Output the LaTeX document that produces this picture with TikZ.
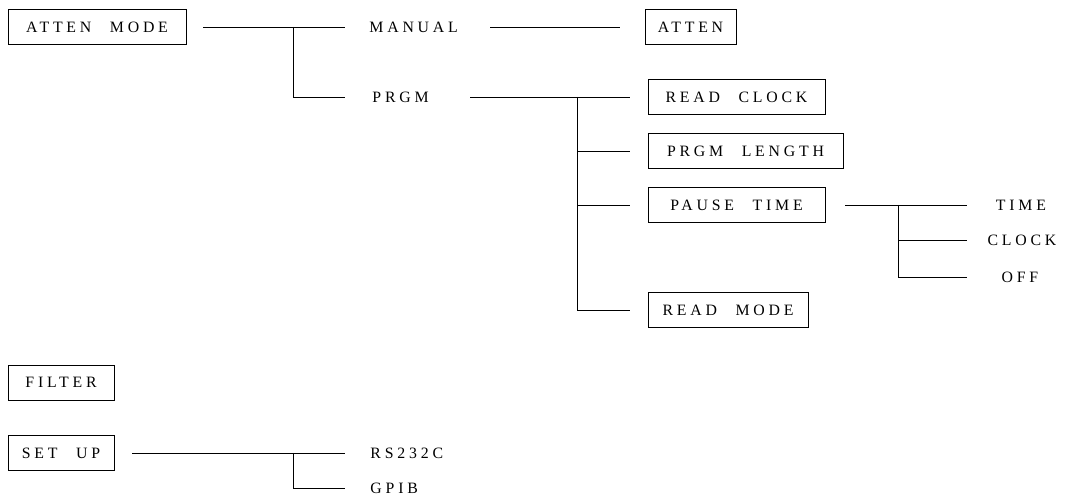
\documentclass[tikz,border=0pt]{standalone}
\usepackage{fontspec}
\setmainfont{Liberation Serif}
\newfontfamily\menufont[LetterSpace=24,WordSpace=2.4]{Liberation Serif}
\usetikzlibrary{positioning}

\begin{document}
\begin{tikzpicture}[x=0.02cm, y=-0.02cm, line width=0.55pt, font=\menufont\fontsize{9}{11}\selectfont]
  \tikzset{menubox/.style={draw, minimum height=0.7cm, inner sep=0pt},
           item/.style={inner sep=0pt}}
  \useasboundingbox (0,0) rectangle (1065,502);
  % attenuator branch
  \node[menubox, minimum width=3.56cm] (mode) at (97,27) {ATTEN MODE};
  \node[item, anchor=west] (manual) at (369,27) {MANUAL};
  \node[menubox, minimum width=1.82cm] (atten) at (690.5,27) {ATTEN};
  \node[item, anchor=west] (prgm) at (372,97) {PRGM};
  \node[menubox, minimum width=3.54cm] (clock) at (736.5,97) {READ CLOCK};
  \node[menubox, minimum width=3.9cm] (length) at (745.5,151) {PRGM LENGTH};
  \node[menubox, minimum width=3.54cm] (pause) at (736.5,205) {PAUSE TIME};
  \node[menubox, minimum width=3.2cm] (readmode) at (728,310) {READ MODE};
  \node[item] (time) at (1021,205) {TIME};
  \node[item] (clk) at (1022,240) {CLOCK};
  \node[item] (off) at (1020,277) {OFF};
  % other menus
  \node[menubox, minimum width=2.12cm] (filter) at (61,382.5) {FILTER};
  \node[menubox, minimum width=2.12cm] (setup) at (61,453) {SET UP};
  \node[item, anchor=west] (rs) at (370,453) {RS232C};
  \node[item, anchor=west] (gpib) at (370,488) {GPIB};

  \coordinate (j1) at (293,27);
  \coordinate (j2) at (577,97);
  \coordinate (j3) at (898,205);
  \coordinate (t3) at (967,205);
  \coordinate (j4) at (293,453);

  \draw ([xshift=.34cm]mode.east) -- ([xshift=-.48cm]manual.west);
  \draw (j1) |- ([xshift=-.54cm]prgm.west);
  \draw ([xshift=.64cm]manual.east) -- ([xshift=-.5cm]atten.west);
  \draw ([xshift=.82cm]prgm.east) -- ([xshift=-.36cm]clock.west);
  \draw (j2) |- ([xshift=-.36cm]readmode.west);
  \draw (j2 |- length) -- ([xshift=-.36cm]length.west);
  \draw (j2 |- pause) -- ([xshift=-.36cm]pause.west);
  \draw ([xshift=.4cm]pause.east) -- (t3);
  \draw (j3) |- (t3 |- off);
  \draw (j3 |- clk) -- (t3 |- clk);
  \draw ([xshift=.36cm]setup.east) -- ([xshift=-.5cm]rs.west);
  \draw (j4) |- ([xshift=-.5cm]gpib.west);
\end{tikzpicture}
\end{document}
